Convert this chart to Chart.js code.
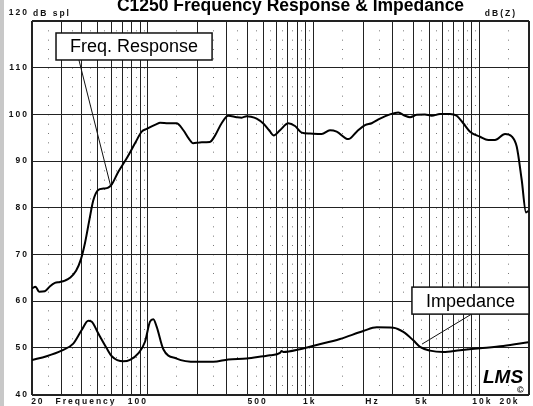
<!DOCTYPE html>
<html><head><meta charset="utf-8">
<script src="https://cdn.jsdelivr.net/npm/chart.js@4/dist/chart.umd.min.js"></script>
<style>html,body{margin:0;padding:0;background:#fff;}#wrap{width:533px;height:406px;position:relative;}canvas{display:block;}</style>
</head><body><div id="wrap"><canvas id="c" width="533" height="406"></canvas></div>
<script>
const titleText = 'C1250 Frequency Response & Impedance';
const yLeftTitle = 'dB spl';
const yRightTitle = 'dB(Z)';
const splFreq = [20, 21, 22.1, 23.9, 25.7, 27.5, 29.5, 31.6, 33.9, 36.9, 39.5, 41.8, 44.4, 46.9, 50.2, 53.9, 57.7, 60.6, 66.4, 74.6, 83.7, 91.9, 98.5, 113, 118.5, 133, 149, 164, 176, 188, 206, 237, 254, 279, 306, 344, 369, 395, 420, 454, 500, 540, 575, 628, 705, 774, 849, 953, 1121, 1258, 1381, 1623, 1824, 2047, 2246, 2521, 2897, 3251, 3569, 3825, 4198, 4711, 5173, 5806, 6672, 7321, 8022, 8810, 10122, 11360, 12467, 14329, 15725, 16858, 18067, 19186, 19810];
const splDb = [62.7, 63.1, 62.0, 62.1, 63.2, 63.9, 64.1, 64.4, 65.0, 66.5, 69.0, 72.5, 77.4, 81.6, 83.8, 84.1, 84.3, 85.0, 87.7, 90.6, 93.8, 96.3, 96.9, 97.9, 98.2, 98.1, 98.1, 96.6, 94.9, 93.8, 94.0, 94.1, 95.4, 98.1, 99.7, 99.4, 99.3, 99.6, 99.5, 99.1, 98.0, 96.6, 95.5, 96.6, 98.1, 97.5, 96.1, 95.9, 95.8, 96.6, 96.3, 94.7, 96.3, 97.7, 98.1, 99.1, 100.0, 100.4, 99.7, 99.4, 99.9, 100.0, 99.7, 100.1, 100.1, 99.7, 98.1, 96.3, 95.2, 94.5, 94.5, 95.8, 95.3, 93.1, 86.0, 79.0, 79.3];
const impFreq = [20, 24.5, 30.2, 35.5, 39.9, 43.7, 45.9, 50.2, 56.5, 60.6, 71.2, 78.1, 87.6, 96.2, 103.1, 108, 113.2, 124.1, 149.4, 197.3, 248.6, 306, 395, 498, 546.7, 628, 643, 658, 829.5, 1046, 1446, 1999, 2408, 3033, 3486, 4004, 4396, 5051, 6078, 7661, 10122, 13993, 19810];
const impDb = [47.4, 48.2, 49.4, 50.9, 53.8, 55.8, 55.6, 53.1, 49.9, 48.2, 47.1, 47.4, 48.8, 51.3, 55.6, 56.1, 54.5, 49.7, 47.7, 47.0, 47.0, 47.5, 47.7, 48.2, 48.4, 48.9, 49.3, 49.1, 49.7, 50.6, 51.9, 53.6, 54.4, 54.3, 53.4, 51.6, 50.2, 49.4, 49.1, 49.5, 49.9, 50.4, 51.2];
const yTicks = [40, 50, 60, 70, 80, 90, 100, 110, 120];
const xMajorGrid = [20,30,40,50,60,70,80,90,100,200,300,400,500,600,700,800,900,1000,2000,3000,4000,5000,6000,7000,8000,9000,10000,20000];
const xMinorGrid = [25,35,45,55,65,75,85,95,150,250,350,450,550,650,750,850,950,1500,2500,3500,4500,5500,6500,7500,8500,9500,15000];
const xTickAt = [21.7, 42.4, 87, 460, 950, 2270, 4520, 10470, 15250];
const xTickText = ['20','Frequency','100','500','1k','Hz','5k','10k','20k'];
const noteText = ['Freq. Response', 'Impedance'];
const noteCenterFreq = [82.6, 8993];
const noteCenterDb = [114.54, 60.11];
const noteLeadFromFreq = [38.4, 9000];
const noteLeadToFreq = [59.9, 4519];
const noteLeadToDb = [84.43, 50.79];

const FAM = '"Liberation Sans", Arial, sans-serif';
const toPts = (fs, ds) => fs.map((f, i) => ({x: f, y: ds[i]}));

const decor = {
  id: 'decor',
  beforeDraw(chart) {
    const ctx = chart.ctx;
    ctx.save();
    ctx.fillStyle = '#c8c8c8';
    ctx.fillRect(0, 0, 4, chart.height);
    ctx.restore();
    ctx.letterSpacing = '2px';
  },
  afterDraw(chart) {
    const ctx = chart.ctx;
    const a = chart.chartArea;
    const xs = chart.scales.x, ys = chart.scales.y;
    ctx.save();
    ctx.letterSpacing = '2px';
    ctx.fillStyle = '#111';
    ctx.font = 'bold 8.5px ' + FAM;
    ctx.textBaseline = 'middle';
    ctx.textAlign = 'left';
    ctx.fillText(yLeftTitle, a.left + 1, a.top - 7);
    ctx.textAlign = 'right';
    ctx.fillText(yRightTitle, a.right - 12, a.top - 7);
    ctx.letterSpacing = '0px';
    ctx.font = 'bold 17.5px ' + FAM;
    ctx.textAlign = 'center';
    ctx.textBaseline = 'alphabetic';
    ctx.fillStyle = '#000';
    ctx.fillText(titleText, (a.left + a.right) / 2 + 10, 10.5);
    ctx.font = '18px ' + FAM;
    for (let i = 0; i < noteText.length; i++) {
      const cx = xs.getPixelForValue(noteCenterFreq[i]);
      const cy = ys.getPixelForValue(noteCenterDb[i]);
      const w = ctx.measureText(noteText[i]).width + 28;
      const h = 27;
      const bx = Math.min(cx - w / 2, a.right - w);
      ctx.strokeStyle = '#111';
      ctx.lineWidth = 1;
      ctx.beginPath();
      ctx.moveTo(xs.getPixelForValue(noteLeadFromFreq[i]), cy + h / 2);
      ctx.lineTo(xs.getPixelForValue(noteLeadToFreq[i]), ys.getPixelForValue(noteLeadToDb[i]));
      ctx.stroke();
      ctx.fillStyle = '#fff';
      ctx.fillRect(bx, cy - h / 2, w, h);
      ctx.lineWidth = 1.5;
      ctx.strokeRect(bx, cy - h / 2, w, h);
      ctx.fillStyle = '#000';
      ctx.textAlign = 'center';
      ctx.textBaseline = 'middle';
      ctx.fillText(noteText[i], bx + w / 2, cy + 1);
    }
    ctx.font = 'italic bold 19px "Liberation Sans", sans-serif';
    ctx.textAlign = 'left';
    ctx.textBaseline = 'alphabetic';
    ctx.fillText('LMS', a.right - 46, a.bottom - 12);
    ctx.font = 'bold 9px ' + FAM;
    ctx.fillText('\u00A9', a.right - 12, a.bottom - 2);
    ctx.restore();
    ctx.letterSpacing = '0px';
  }
};

new Chart(document.getElementById('c'), {
  type: 'line',
  data: {
    datasets: [
      {label: 'Freq. Response', data: toPts(splFreq, splDb), borderColor: '#000', borderWidth: 2, pointRadius: 0, cubicInterpolationMode: 'monotone', fill: false},
      {label: 'Impedance', data: toPts(impFreq, impDb), borderColor: '#000', borderWidth: 2, pointRadius: 0, cubicInterpolationMode: 'monotone', fill: false}
    ]
  },
  options: {
    responsive: false,
    animation: false,
    devicePixelRatio: 1,
    layout: {padding: {left: 0, top: 21, right: 4, bottom: 0}},
    plugins: {legend: {display: false}, tooltip: {enabled: false}, title: {display: false}},
    scales: {
      x: {
        type: 'logarithmic', position: 'bottom', min: 20, max: 20000,
        afterBuildTicks: (s) => { s.ticks = xTickAt.map(v => ({value: v})); },
        afterFit: (s) => { s.height = 11; },
        grid: {display: false, drawTicks: false},
        border: {display: false},
        ticks: {autoSkip: false, maxRotation: 0, padding: 2, color: '#111',
          font: {family: FAM, size: 8.5, weight: 'bold', lineHeight: 1.2},
          callback: (v, i) => xTickText[i]}
      },
      xg: {
        type: 'logarithmic', position: 'bottom', min: 20, max: 20000,
        afterBuildTicks: (s) => { s.ticks = xMajorGrid.map(v => ({value: v})); },
        afterFit: (s) => { s.height = 0; },
        grid: {drawTicks: false, color: '#222',
          lineWidth: (c) => (c.tick && (c.tick.value === 20 || c.tick.value === 20000)) ? 2 : 1},
        border: {display: false},
        ticks: {display: false}
      },
      xd: {
        type: 'logarithmic', position: 'bottom', min: 20, max: 20000,
        afterBuildTicks: (s) => { s.ticks = xMinorGrid.map(v => ({value: v})); },
        afterFit: (s) => { s.height = 0; },
        grid: {drawTicks: false, color: '#777', lineWidth: 1},
        border: {display: false, dash: [1, 8.3333]},
        ticks: {display: false}
      },
      y: {
        type: 'linear', position: 'left', min: 40, max: 120,
        afterBuildTicks: (s) => { s.ticks = yTicks.map(v => ({value: v})); },
        afterFit: (s) => { s.width = 32; },
        grid: {drawTicks: false, color: '#222',
          lineWidth: (c) => (c.tick && (c.tick.value === 40 || c.tick.value === 120)) ? 2 : 1},
        border: {display: false},
        ticks: {padding: 3, color: '#111', font: {family: FAM, size: 8.5, weight: 'bold', lineHeight: 2},
          callback: (v) => v === 120 ? [String(v), ''] : String(v)}
      }
    }
  },
  plugins: [decor]
});
</script></body></html>
